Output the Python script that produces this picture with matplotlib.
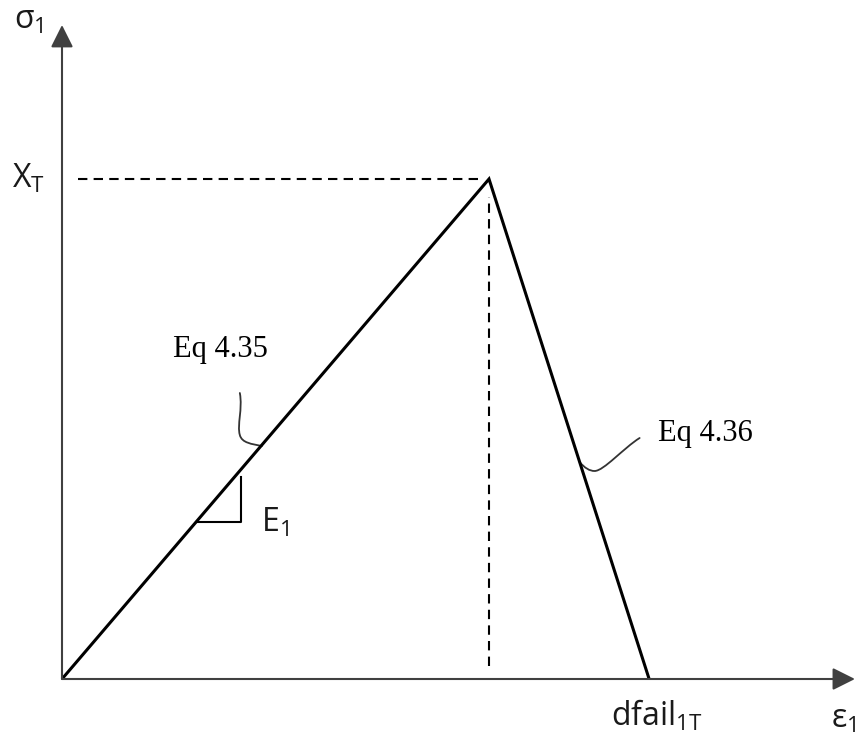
import matplotlib
matplotlib.use("Agg")
import matplotlib.pyplot as plt
from matplotlib.path import Path
from matplotlib.patches import PathPatch

# bilinear damage law: linear rise to X_T, linear softening to dfail_1T
strain = [0.0, 1.0, 1.375]
stress = [0.0, 1.0, 0.0]
peak_strain = 1.0
XT = 1.0

plt.rcParams["mathtext.fontset"] = "custom"
plt.rcParams["mathtext.rm"] = "Open Sans"
plt.rcParams["mathtext.it"] = "Open Sans:italic"
plt.rcParams["mathtext.bf"] = "Open Sans:bold"

fig = plt.figure(figsize=(8.6, 7.36), dpi=100)
ax = fig.add_axes([0, 0, 1, 1])
ax.set_xlim(-62 / 427, 798 / 427)
ax.set_ylim(-57 / 500, 679 / 500)
ax.axis("off")

# size of one pixel in data units
px = 1 / 427
py = 1 / 500

axis_color = "#404040"
arrow = dict(arrowstyle="-|>,head_length=1.0,head_width=0.5", mutation_scale=13.7,
             color=axis_color, lw=1.5, shrinkA=0, shrinkB=0)
ax.annotate("", xy=(0, 1.308), xytext=(0, 0), arrowprops=arrow)
ax.annotate("", xy=(1.857, 0), xytext=(0, 0), arrowprops=arrow)

# response curve
ax.plot(strain, stress, color="black", lw=2.2, solid_joinstyle="miter",
        solid_capstyle="butt")

# guides to the peak
ax.plot([0.037, 0.975], [XT, XT], color="black", lw=1.5, dashes=(4.5, 3))
ax.plot([peak_strain, peak_strain], [0.026, 0.965], color="black", lw=1.5,
        dashes=(4.5, 3))

# slope triangle for E1
s0, run, rise = 0.314, 0.105, 0.09
ax.plot([s0, s0 + run, s0 + run], [s0, s0, s0 + rise], color="black", lw=1.5)

# hand drawn leaders
def leader(x0, y0, pts):
    verts = [(x0 + dx * px, y0 + dy * py) for dx, dy in pts]
    codes = [Path.MOVETO] + [Path.CURVE4] * (len(verts) - 1)
    ax.add_patch(PathPatch(Path(verts, codes), fill=False, color="#333333",
                           lw=1.3, capstyle="round"))

e1 = 0.468
leader(e1, e1, [(-22, 52), (-19, 36), (-25, 20), (-22, 10),
                (-20, 2), (-10, 1), (0, -1)])

yb = 0.434
xb = peak_strain + (1 - yb) * (strain[2] - peak_strain)
leader(xb, yb, [(0, 0), (5, -6), (10, -9), (15, -9),
                (24, -9), (44, 14), (60, 24)])

sans = dict(fontsize=23, color="#1a1a1a", va="baseline", ha="left")
ax.text(-0.112, 1.300, r"$\mathrm{σ_1}$", **sans)
ax.text(-0.117, 0.982, r"$\mathrm{X_T}$", **sans)
ax.text(0.466, 0.294, r"$\mathrm{E_1}$", **sans)
ax.text(1.285, -0.094, r"$\mathrm{dfail_{1T}}$", **sans)
ax.text(1.800, -0.098, r"$\mathrm{ε_1}$", **sans)

serif = dict(fontsize=22, family="Liberation Serif", color="black",
             va="baseline", ha="left")
ax.text(0.260, 0.644, "Eq 4.35", **serif)
ax.text(1.396, 0.476, "Eq 4.36", **serif)

fig.savefig("out.png", dpi=100)
